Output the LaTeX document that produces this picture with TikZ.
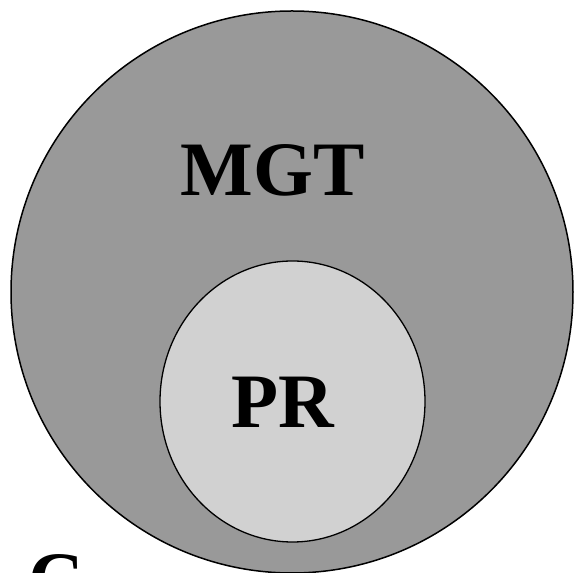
\documentclass[tikz,border=0pt]{standalone}
\usepackage{fontspec}
\setmainfont{Liberation Serif}
\definecolor{outergray}{HTML}{999999}
\definecolor{innergray}{HTML}{D1D1D1}
\tikzset{label text/.style={font=\fontsize{77}{77}\selectfont\bfseries, inner sep=0pt}}

\begin{document}
\begin{tikzpicture}[x=1pt,y=1pt]
\useasboundingbox (0,0) rectangle (574,573);
\clip (0,0) rectangle (574,573);
\filldraw[fill=outergray,draw=black,line width=1.5pt] (292,281) circle (281);
\filldraw[fill=innergray,draw=black,line width=1.3pt] (292.5,171.5) ellipse (132.5 and 140.5);
\node[label text,anchor=base] (mgt) at (272.5,377) {MGT};
\node[label text,anchor=base] (pr) at (282.5,145) {PR};
\node[label text,anchor=base west] (c) at (28,-33) {C};
\end{tikzpicture}
\end{document}
